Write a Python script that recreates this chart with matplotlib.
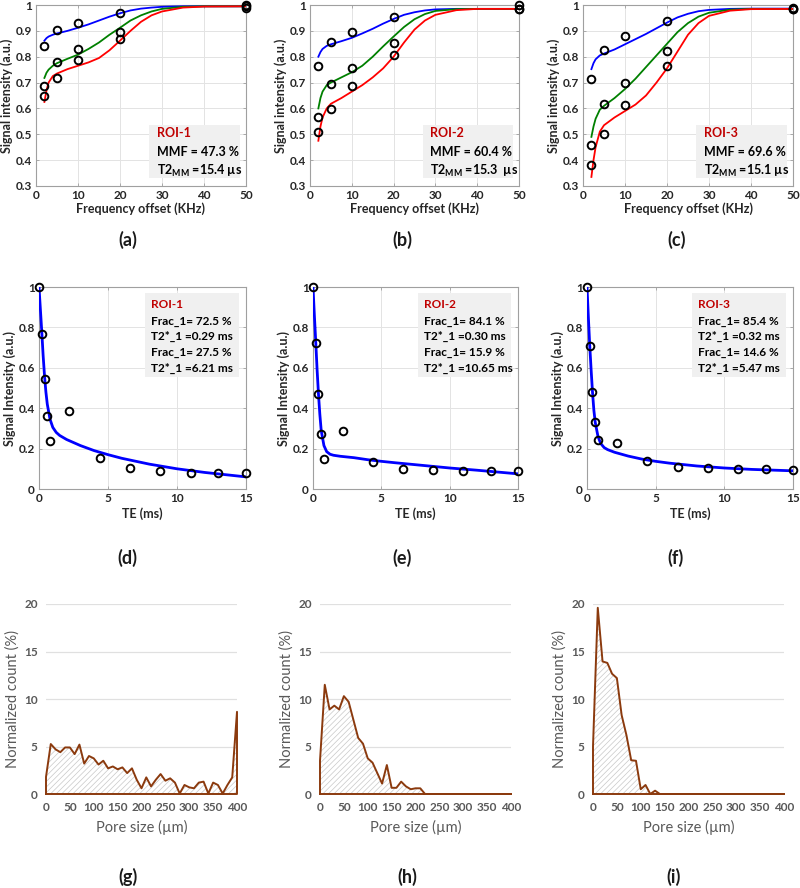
import numpy as np
import matplotlib
matplotlib.use("Agg")
import matplotlib.pyplot as plt

plt.rcParams['font.family'] = ['Lato', 'DejaVu Sans']
plt.rcParams['mathtext.fontset'] = 'custom'
plt.rcParams['mathtext.rm'] = 'Lato'
plt.rcParams['mathtext.bf'] = 'Lato:bold'
plt.rcParams['hatch.linewidth'] = 0.5

# ---- top row: saturation curves vs frequency offset ----
freq = [2, 5, 10, 20, 50]
pts_a = {'blue': [0.843, 0.903, 0.932, 0.970, 1.0],
         'green': [0.687, 0.781, 0.829, 0.897, 0.995],
         'red': [0.649, 0.716, 0.787, 0.867, 0.99]}
pts_b = {'blue': [0.765, 0.858, 0.897, 0.952, 1.0],
         'green': [0.566, 0.694, 0.758, 0.852, 0.985],
         'red': [0.508, 0.599, 0.687, 0.807, 0.985]}
pts_c = {'blue': [0.712, 0.826, 0.880, 0.940, 0.99],
         'green': [0.457, 0.619, 0.700, 0.822, 0.985],
         'red': [0.382, 0.500, 0.613, 0.764, 0.985]}

# fitted curves
fit_x = [2, 2.5, 3, 4, 5, 7.5, 10, 12.5, 15, 17.5, 20, 22.5, 25, 27.5, 30, 35, 40, 50]
fit_a = {'blue': [0.862, 0.872, 0.878, 0.885, 0.89, 0.90, 0.912, 0.925, 0.94, 0.955, 0.968,
                  0.979, 0.986, 0.99, 0.993, 0.995, 0.995, 0.995],
         'green': [0.718, 0.738, 0.75, 0.765, 0.775, 0.792, 0.808, 0.83, 0.855, 0.885, 0.912,
                   0.94, 0.96, 0.975, 0.985, 0.993, 0.995, 0.995],
         'red': [0.625, 0.67, 0.70, 0.725, 0.735, 0.752, 0.765, 0.778, 0.795, 0.825, 0.862,
                 0.90, 0.935, 0.96, 0.975, 0.99, 0.994, 0.995]}
fit_b = {'blue': [0.80, 0.818, 0.83, 0.842, 0.848, 0.86, 0.873, 0.89, 0.908, 0.928, 0.946,
                  0.962, 0.972, 0.979, 0.983, 0.985, 0.985, 0.985],
         'green': [0.60, 0.64, 0.665, 0.69, 0.70, 0.72, 0.74, 0.765, 0.80, 0.84, 0.878,
                   0.915, 0.945, 0.965, 0.977, 0.984, 0.985, 0.985],
         'red': [0.475, 0.53, 0.565, 0.60, 0.618, 0.64, 0.665, 0.69, 0.72, 0.755, 0.80,
                 0.855, 0.905, 0.94, 0.962, 0.98, 0.985, 0.985]}
fit_c = {'blue': [0.752, 0.775, 0.79, 0.805, 0.812, 0.828, 0.848, 0.868, 0.888, 0.91, 0.932,
                  0.952, 0.966, 0.976, 0.981, 0.985, 0.986, 0.986],
         'green': [0.49, 0.53, 0.56, 0.595, 0.61, 0.64, 0.675, 0.715, 0.76, 0.805, 0.85,
                   0.895, 0.93, 0.955, 0.97, 0.982, 0.985, 0.985],
         'red': [0.335, 0.40, 0.45, 0.51, 0.535, 0.565, 0.59, 0.615, 0.65, 0.70, 0.755,
                 0.82, 0.885, 0.93, 0.958, 0.978, 0.984, 0.985]}
mmf = ['47.3 %', '60.4 %', '69.6 %']
t2mm = ['15.4 µs', '15.3  µs', '15.1 µs']

# ---- middle row: T2* decay ----
te = [0, 0.2, 0.4, 0.6, 0.8, 2.2, 4.4, 6.6, 8.8, 11, 13, 15]
sig_d = [1.0, 0.767, 0.546, 0.36, 0.236, 0.384, 0.153, 0.104, 0.09, 0.079, 0.081, 0.078]
sig_e = [1.0, 0.723, 0.469, 0.274, 0.149, 0.287, 0.133, 0.10, 0.093, 0.09, 0.091, 0.088]
sig_f = [1.0, 0.706, 0.482, 0.332, 0.244, 0.228, 0.14, 0.109, 0.104, 0.099, 0.097, 0.096]
te_fit = [0, 0.1, 0.2, 0.3, 0.4, 0.5, 0.6, 0.8, 1.0, 1.25, 1.5, 2, 3, 4, 5, 6, 8, 10, 12, 15]
fit_d = [1.0, 0.89, 0.78, 0.66, 0.56, 0.48, 0.42, 0.345, 0.305, 0.28, 0.265, 0.245, 0.215,
         0.19, 0.17, 0.152, 0.123, 0.10, 0.082, 0.06]
fit_e = [1.0, 0.86, 0.73, 0.59, 0.47, 0.37, 0.29, 0.215, 0.185, 0.172, 0.167, 0.162, 0.155,
         0.145, 0.137, 0.13, 0.117, 0.104, 0.093, 0.075]
fit_f = [1.0, 0.85, 0.71, 0.59, 0.48, 0.39, 0.33, 0.26, 0.225, 0.205, 0.195, 0.182, 0.163,
         0.148, 0.137, 0.128, 0.114, 0.104, 0.097, 0.09]
roi_txt = [['Frac_1= 72.5 %', 'T2*_1 =0.29 ms', 'Frac_1= 27.5 %', 'T2*_1 =6.21 ms'],
           ['Frac_1= 84.1 %', 'T2*_1 =0.30 ms', 'Frac_1= 15.9 %', 'T2*_1 =10.65 ms'],
           ['Frac_1= 85.4 %', 'T2*_1 =0.32 ms', 'Frac_1= 14.6 %', 'T2*_1 =5.47 ms']]

# ---- bottom row: pore size histograms ----
pore = list(range(0, 410, 10))
cnt_g = [1.8, 5.26, 4.7, 4.4, 4.9, 4.9, 4.2, 5.2, 3.2, 4.0, 3.75, 3.1, 3.5, 2.7, 2.9, 2.6,
         2.8, 2.2, 2.7, 1.5, 0.6, 1.75, 0.8, 1.5, 2.1, 1.4, 1.65, 1.2, 0.05, 0.95, 0.7, 0.6,
         1.2, 1.3, 0.05, 1.2, 0.95, 0.05, 0.95, 1.75, 8.65]
cnt_h = [3.5, 11.5, 8.9, 9.3, 8.9, 10.3, 9.7, 7.8, 5.9, 5.3, 3.75, 3.3, 2.2, 1.1, 3.05, 0.65,
         0.65, 1.3, 0.8, 0.5, 0.6, 0.6, 0] + [0] * 18
cnt_i = [5.0, 19.6, 13.95, 13.8, 12.65, 12.2, 8.3, 6.2, 3.55, 3.5, 0.5, 0.95, 0, 0.35, 0] + [0] * 26

W, H = 800, 888
fig = plt.figure(figsize=(W / 100, H / 100), dpi=100)


def px_axes(x0, x1, ytop, ybot):
    return fig.add_axes([x0 / W, 1 - ybot / H, (x1 - x0) / W, (ybot - ytop) / H])


def matlab_style(ax):
    for s in ax.spines.values():
        s.set_color('#a0a0a0')
        s.set_linewidth(0.8)
    ax.grid(True, color='#e3e3e3', linewidth=0.7)
    ax.set_axisbelow(True)
    ax.tick_params(direction='in', length=2.5, width=0.6, color='#a0a0a0',
                   top=True, right=True, labelsize=8.5, labelcolor='#262626', pad=3)
    for lab in ax.get_xticklabels() + ax.get_yticklabels():
        lab.set_fontweight('bold')


top_pos = [(36, 246), (310, 519), (583, 793)]
for (x0, x1), pts, fit, m, t2, n in zip(top_pos, [pts_a, pts_b, pts_c], [fit_a, fit_b, fit_c],
                                         mmf, t2mm, [1, 2, 3]):
    ax = px_axes(x0, x1, 5, 186)
    for col, c in [('blue', '#0000ff'), ('green', '#008000'), ('red', '#ff0000')]:
        ax.plot(fit_x, fit[col], color=c, lw=1.3, zorder=3)
        ax.plot(freq, pts[col], 'o', mfc='none', mec='black', mew=1.4, ms=5.5, zorder=4,
                clip_on=False)
    ax.set_xlim(0, 50)
    ax.set_ylim(0.3, 1)
    ax.set_xticks(range(0, 51, 10))
    ax.set_yticks([0.3, 0.4, 0.5, 0.6, 0.7, 0.8, 0.9, 1.0])
    ax.set_yticklabels(['0.3', '0.4', '0.5', '0.6', '0.7', '0.8', '0.9', '1'])
    matlab_style(ax)
    ax.set_xlabel('Frequency offset (KHz)', fontsize=9, fontweight='bold', color='#262626',
                  labelpad=1)
    ax.set_ylabel('Signal intensity (a.u.)', fontsize=9, fontweight='bold', color='#262626',
                  labelpad=2)
    ax.add_patch(plt.Rectangle((0.54, 0.045), 0.43, 0.29, transform=ax.transAxes,
                               facecolor='#f0f0f0', edgecolor='none', zorder=5))
    ax.text(0.575, 0.295, 'ROI-%d' % n, transform=ax.transAxes, color='#c00000',
            fontsize=9, fontweight='bold', va='center', zorder=6)
    ax.text(0.575, 0.19, 'MMF = ' + m, transform=ax.transAxes, color='black',
            fontsize=9, fontweight='bold', va='center', zorder=6)
    ax.text(0.575, 0.085, r'T2$_{\mathbf{MM}}$ =' + t2, transform=ax.transAxes,
            color='black', fontsize=9, fontweight='bold', va='center', zorder=6)

mid_pos = [(39, 246), (313, 518), (587, 793)]
for (x0, x1), sig, fit, lines, n in zip(mid_pos, [sig_d, sig_e, sig_f], [fit_d, fit_e, fit_f],
                                        roi_txt, [1, 2, 3]):
    ax = px_axes(x0, x1, 287, 489)
    ax.plot(te_fit, fit, color='#0000ff', lw=2.0, zorder=3)
    ax.plot(te, sig, 'o', mfc='none', mec='black', mew=1.4, ms=5.5, zorder=4, clip_on=False)
    ax.set_xlim(0, 15)
    ax.set_ylim(0, 1)
    ax.set_xticks([0, 5, 10, 15])
    ax.set_yticks([0, 0.2, 0.4, 0.6, 0.8, 1.0])
    ax.set_yticklabels(['0', '0.2', '0.4', '0.6', '0.8', '1'])
    matlab_style(ax)
    ax.set_xlabel('TE (ms)', fontsize=9, fontweight='bold', color='#262626', labelpad=2)
    ax.set_ylabel('Signal Intensity (a.u.)', fontsize=9, fontweight='bold', color='#262626',
                  labelpad=2)
    ax.add_patch(plt.Rectangle((0.51, 0.555), 0.455, 0.415, transform=ax.transAxes,
                               facecolor='#f0f0f0', edgecolor='none', zorder=5))
    ax.text(0.54, 0.915, 'ROI-%d' % n, transform=ax.transAxes, color='#c00000',
            fontsize=8.5, fontweight='bold', va='center', zorder=6)
    for k, s in enumerate(lines):
        ax.text(0.54, 0.83 - k * 0.077, s, transform=ax.transAxes, color='black',
                fontsize=8.5, fontweight='bold', va='center', zorder=6)

bot_pos = [(46, 237), (320, 511), (593, 784)]
brown = '#8b3a0e'
for (x0, x1), cnt in zip(bot_pos, [cnt_g, cnt_h, cnt_i]):
    ax = px_axes(x0, x1, 604, 794)
    ax.fill_between(pore, cnt, 0, facecolor='white', edgecolor='#c8c8c8', hatch='//////',
                    linewidth=0, zorder=2)
    ax.plot([0] + pore + [400, 0], [0] + cnt + [0, 0], color=brown, lw=1.4, zorder=3,
            clip_on=False)
    ax.set_xlim(0, 400)
    ax.set_ylim(0, 20)
    ax.set_xticks(range(0, 401, 50))
    ax.set_yticks([0, 5, 10, 15, 20])
    for s in ax.spines.values():
        s.set_visible(False)
    ax.grid(True, axis='y', color='#e0e0e0', linewidth=0.9)
    ax.set_axisbelow(True)
    ax.tick_params(length=0, labelsize=8.5, labelcolor='#595959', pad=6)
    for lab in ax.get_xticklabels() + ax.get_yticklabels():
        lab.set_fontweight('bold')
    ax.set_xlabel('Pore size (µm)', fontsize=10.5, color='#595959', labelpad=5)
    ax.set_ylabel('Normalized count (%)', fontsize=10.5, color='#595959', labelpad=3)

labels = [('(a)', 128, 240), ('(b)', 402, 240), ('(c)', 677, 240),
          ('(d)', 127, 558), ('(e)', 402, 558), ('(f)', 675, 558),
          ('(g)', 128, 877), ('(h)', 407, 877), ('(i)', 674, 877)]
for s, x, y in labels:
    fig.text(x / W, 1 - y / H, s, ha='center', va='center', fontsize=13,
             fontweight='bold', color='#1a1a1a')

fig.savefig('out.png', dpi=100)
